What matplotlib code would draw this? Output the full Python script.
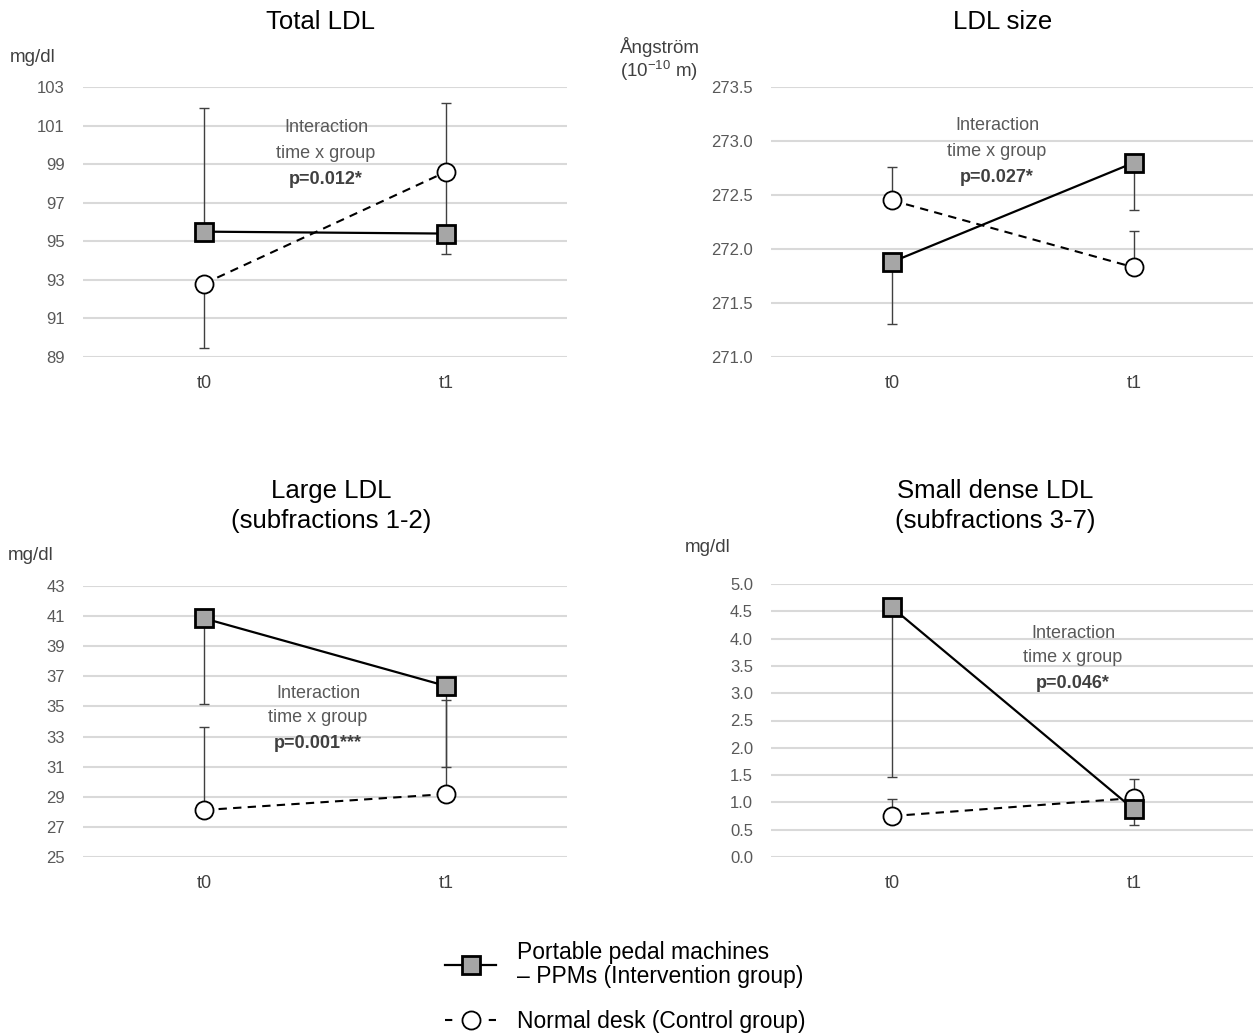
import numpy as np
import matplotlib
matplotlib.use("Agg")
import matplotlib.pyplot as plt
from matplotlib.lines import Line2D

plt.rcParams["font.family"] = ["Liberation Sans", "DejaVu Sans"]

times = ["t0", "t1"]

# Total LDL (mg/dl)
total_ppm = [95.5, 95.4]
total_ppm_down = [0.0, 1.05]
total_ppm_up = [6.4, 0.0]
total_ctl = [92.8, 98.6]
total_ctl_down = [3.33, 3.2]
total_ctl_up = [0.0, 3.55]

# LDL size (Angstrom)
size_ppm = [271.88, 272.80]
size_ppm_down = [0.57, 0.44]
size_ppm_up = [0.0, 0.0]
size_ctl = [272.45, 271.83]
size_ctl_down = [0.0, 0.0]
size_ctl_up = [0.31, 0.34]

# Large LDL, subfractions 1-2 (mg/dl)
large_ppm = [40.85, 36.36]
large_ppm_down = [5.7, 5.38]
large_ppm_up = [0.0, 0.0]
large_ctl = [28.12, 29.18]
large_ctl_down = [0.0, 0.0]
large_ctl_up = [5.5, 6.24]

# Small dense LDL, subfractions 3-7 (mg/dl)
small_ppm = [4.57, 0.87]
small_ppm_down = [3.1, 0.28]
small_ppm_up = [0.0, 0.0]
small_ctl = [0.75, 1.08]
small_ctl_down = [0.0, 0.0]
small_ctl_up = [0.32, 0.34]

W, H = 1253.0, 1034.0

panels = [
    dict(title="Total LDL", ylim=(89, 103), yticks=np.arange(89, 104, 2), fmt="{:.0f}",
         ppm=(total_ppm, total_ppm_down, total_ppm_up),
         ctl=(total_ctl, total_ctl_down, total_ctl_up),
         p="p=0.012*", note_xy=(326, 128), title_xy=(320, 22),
         rect=[83 / W, 1 - 357 / H, 484 / W, 270 / H]),
    dict(title="LDL size", ylim=(271.0, 273.5), yticks=np.arange(271.0, 273.6, 0.5), fmt="{:.1f}",
         ppm=(size_ppm, size_ppm_down, size_ppm_up),
         ctl=(size_ctl, size_ctl_down, size_ctl_up),
         p="p=0.027*", note_xy=(997, 126), title_xy=(1003, 22),
         rect=[771 / W, 1 - 357 / H, 484 / W, 270 / H]),
    dict(title="Large LDL\n(subfractions 1-2)", ylim=(25, 43), yticks=np.arange(25, 44, 2), fmt="{:.0f}",
         ppm=(large_ppm, large_ppm_down, large_ppm_up),
         ctl=(large_ctl, large_ctl_down, large_ctl_up),
         p="p=0.001***", note_xy=(318, 693), title_xy=(331, 506),
         rect=[83 / W, 1 - 857 / H, 484 / W, 271 / H]),
    dict(title="Small dense LDL\n(subfractions 3-7)", ylim=(0, 5), yticks=np.arange(0, 5.1, 0.5), fmt="{:.1f}",
         ppm=(small_ppm, small_ppm_down, small_ppm_up),
         ctl=(small_ctl, small_ctl_down, small_ctl_up),
         p="p=0.046*", note_xy=(1073, 633), title_xy=(995, 506),
         rect=[771 / W, 1 - 857 / H, 484 / W, 273 / H]),
]

fig = plt.figure(figsize=(12.53, 10.34), dpi=100)
x = np.arange(len(times))

for pnl in panels:
    ax = fig.add_axes(pnl["rect"])
    ax.set_xlim(-0.5, 1.5)
    ax.set_ylim(*pnl["ylim"])
    ax.set_yticks(pnl["yticks"])
    ax.set_yticklabels([pnl["fmt"].format(v) for v in pnl["yticks"]])
    ax.set_xticks(x)
    ax.set_xticklabels(times)
    for s in ax.spines.values():
        s.set_visible(False)
    ax.tick_params(axis="both", length=0)
    ax.tick_params(axis="y", labelsize=12, labelcolor="#595959", pad=13)
    ax.tick_params(axis="x", labelsize=13, labelcolor="#404040", pad=13)
    ax.grid(axis="y", color="#d9d9d9", linewidth=1.5)
    ax.set_axisbelow(True)

    # error bars (one-sided, as in the original)
    for vals, dn, up in (pnl["ctl"], pnl["ppm"]):
        ax.errorbar(x, vals, yerr=[dn, up], fmt="none", ecolor="#404040",
                    elinewidth=1.0, capsize=3.5, capthick=1.0, zorder=2, clip_on=False)

    yc = pnl["ctl"][0]
    ax.plot(x, yc, color="black", linestyle=(0, (4, 3)), linewidth=1.5, zorder=3,
            marker="o", markersize=13, markerfacecolor="white",
            markeredgecolor="black", markeredgewidth=1.3, clip_on=False)
    yp = pnl["ppm"][0]
    ax.plot(x, yp, color="black", linestyle="-", linewidth=1.6, zorder=4,
            marker="s", markersize=12.5, markerfacecolor="#a6a6a6",
            markeredgecolor="black", markeredgewidth=2.0, clip_on=False)

    cx, cy = pnl["title_xy"]
    fig.text(cx / W, 1 - cy / H, pnl["title"], fontsize=18.5, color="black",
             ha="center", va="center", linespacing=1.35)

    nx, ny = pnl["note_xy"]
    fig.text(nx / W, 1 - ny / H, "Interaction", ha="center", va="center",
             fontsize=13, color="#595959")
    fig.text(nx / W, 1 - (ny + 25) / H, "time x group", ha="center", va="center",
             fontsize=13, color="#595959")
    fig.text(nx / W, 1 - (ny + 51) / H, pnl["p"], ha="center", va="center",
             fontsize=13, color="#404040", fontweight="bold")

# axis unit labels
fig.text(10 / W, 1 - 57 / H, "mg/dl", fontsize=13.5, color="#404040", va="center")
fig.text(620 / W, 1 - 47 / H, "Ångström", fontsize=13.5, color="#404040", va="center")
fig.text(620 / W, 1 - 71 / H, r"(10$^{\mathregular{-10}}$ m)", fontsize=13.5, color="#404040", va="center")
fig.text(8 / W, 1 - 556 / H, "mg/dl", fontsize=13.5, color="#404040", va="center")
fig.text(685 / W, 1 - 548 / H, "mg/dl", fontsize=13.5, color="#404040", va="center")

handles = [
    Line2D([], [], color="black", linestyle="-", linewidth=1.6, marker="s", markersize=12.5,
           markerfacecolor="#a6a6a6", markeredgecolor="black", markeredgewidth=2.0),
    Line2D([], [], color="black", linestyle=(0, (3.5, 17.5)), linewidth=1.5, marker="o", markersize=13,
           markerfacecolor="white", markeredgecolor="black", markeredgewidth=1.3),
]
labels = ["Portable pedal machines\n– PPMs (Intervention group)", "Normal desk (Control group)"]
leg = fig.legend(handles, labels, loc="upper left", bbox_to_anchor=(445 / W, 1 - 941 / H),
                 frameon=False, fontsize=16.5, handlelength=2.24, handletextpad=0.9,
                 labelspacing=0.95, borderpad=0, borderaxespad=0)
for t in leg.get_texts():
    t.set_linespacing(1.05)

fig.savefig("out.png", dpi=100, facecolor="white")
